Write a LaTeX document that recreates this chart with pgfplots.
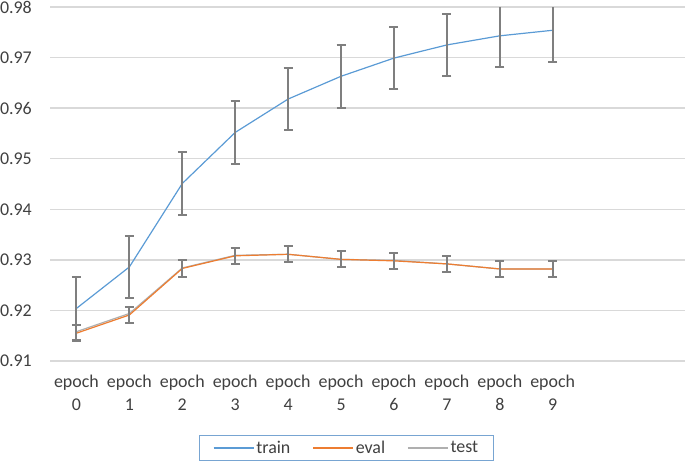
\documentclass[border=0pt]{standalone}
\usepackage{fontspec}
\setmainfont{Carlito}
\usepackage{pgfplots}
\pgfplotsset{compat=1.18}
\definecolor{trainblue}{RGB}{91,155,213}
\definecolor{evalorange}{RGB}{237,125,49}
\definecolor{testgray}{RGB}{175,175,175}
\definecolor{errgray}{RGB}{127,127,127}
\definecolor{gridgray}{RGB}{217,217,217}
\definecolor{labelgray}{RGB}{64,64,64}
\definecolor{legendblue}{RGB}{120,165,210}

\begin{document}
\begin{tikzpicture}
\useasboundingbox (0,0) rectangle (685bp,466bp);
\begin{axis}[
    at={(50bp,105bp)}, anchor=south west,
    scale only axis,
    width=635bp, height=354bp,
    xmin=-0.5, xmax=11.5,
    ymin=0.91, ymax=0.98,
    xtick={0,1,2,3,4,5,6,7,8,9},
    xticklabels={epoch\\0,epoch\\1,epoch\\2,epoch\\3,epoch\\4,epoch\\5,epoch\\6,epoch\\7,epoch\\8,epoch\\9},
    ytick={0.91,0.92,0.93,0.94,0.95,0.96,0.97,0.98},
    yticklabels={0.91,0.92,0.93,0.94,0.95,0.96,0.97,0.98},
    ymajorgrids,
    grid style={gridgray, line width=1.3bp},
    axis line style={draw=none},
    major tick length=0pt,
    tick label style={font=\fontsize{18}{22.5}\selectfont, text=labelgray},
    yticklabel style={anchor=east, inner sep=0pt, xshift=-18bp},
    xticklabel style={align=center, anchor=north, inner sep=0pt, yshift=-14bp},
    legend style={at={(0.467,-0.2458)}, anchor=center, legend columns=3,
        draw=legendblue, line width=1bp, font=\fontsize{18}{22}\selectfont,
        text=labelgray, inner xsep=13bp, inner ysep=4bp,
        /tikz/every even column/.append style={column sep=20bp}},
    legend image code/.code={\draw[#1, line width=1.4bp] (0bp,0bp) -- (40bp,0bp);},
]
\addplot[trainblue, line width=1.2bp,
    error bars/.cd, y dir=both, y fixed=0.0062,
    error bar style={errgray, line width=2bp},
    error mark options={errgray, line width=2bp, mark size=4.5bp, rotate=90}]
    coordinates {(0,0.9204) (1,0.9286) (2,0.9451) (3,0.9552) (4,0.9618)
                 (5,0.9663) (6,0.9699) (7,0.9725) (8,0.9743) (9,0.9754)};
\addlegendentry{train}
\addplot[testgray, line width=1.2bp, forget plot]
    coordinates {(0,0.9158) (1,0.9194) (2,0.9284) (3,0.9309) (4,0.9311)
                 (5,0.9301) (6,0.9299) (7,0.9292) (8,0.9282) (9,0.9282)};
\addplot[evalorange, line width=1.2bp,
    error bars/.cd, y dir=both, y fixed=0.0016,
    error bar style={errgray, line width=2bp},
    error mark options={errgray, line width=2bp, mark size=4.5bp, rotate=90}]
    coordinates {(0,0.9155) (1,0.9191) (2,0.9283) (3,0.9308) (4,0.9311)
                 (5,0.9301) (6,0.9298) (7,0.9292) (8,0.9282) (9,0.9282)};
\addlegendentry{eval}
\addlegendimage{testgray, line width=1.2bp}
\addlegendentry{test}
\end{axis}
\end{tikzpicture}
\end{document}
